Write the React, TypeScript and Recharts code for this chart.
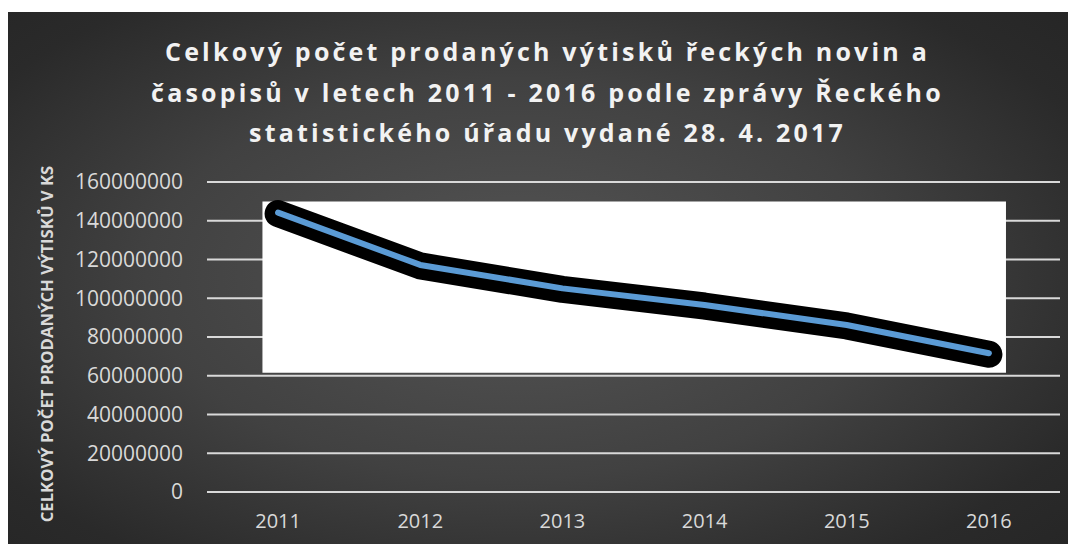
import React from 'react';
import { ComposedChart, Line, XAxis, YAxis, CartesianGrid, ReferenceArea } from 'recharts';

const years = ['2011', '2012', '2013', '2014', '2015', '2016'];
const copies = [144200000, 117200000, 105100000, 96500000, 86200000, 71600000];
const yTicks = [0, 20000000, 40000000, 60000000, 80000000, 100000000, 120000000, 140000000, 160000000];
const titleLines = [
  'Celkový počet prodaných výtisků řeckých novin a',
  'časopisů v letech 2011 - 2016 podle zprávy Řeckého',
  'statistického úřadu vydané 28. 4. 2017',
];
const yAxisTitle = 'CELKOVÝ POČET PRODANÝCH VÝTISKŮ V KS';

const data = years.map((y, i) => ({ i, year: y, value: copies[i] }));

const W = 1063;
const H = 532;

export default function App() {
  return (
    <div
      style={{
        position: 'relative',
        width: W,
        height: H,
        marginTop: 4,
        background: 'radial-gradient(ellipse 70% 75% at 48% 50%, #555555 0%, #414141 50%, #2a2a2a 85%, #262626 100%)',
        fontFamily: '"Open Sans", sans-serif',
        overflow: 'hidden',
      }}
    >
      <div
        style={{
          position: 'absolute',
          left: 8,
          top: 19,
          width: W,
          textAlign: 'center',
          color: '#F2F2F2',
          fontWeight: 700,
          fontSize: 25,
          letterSpacing: 3.2,
          lineHeight: '40.5px',
        }}
      >
        {titleLines.map((t, k) => (
          <div key={k}>{t}</div>
        ))}
      </div>
      <div
        style={{
          position: 'absolute',
          left: 39 - 200,
          top: 332 - 10,
          width: 400,
          height: 20,
          lineHeight: '20px',
          textAlign: 'center',
          transform: 'rotate(-90deg)',
          color: '#D9D9D9',
          fontWeight: 700,
          fontSize: 16.7,
          whiteSpace: 'nowrap',
        }}
      >
        {yAxisTitle}
      </div>
      <ComposedChart
        width={W}
        height={H}
        data={data}
        margin={{ top: 170, right: 11, left: 0, bottom: 0 }}
        style={{ position: 'absolute', left: 0, top: 0 }}
      >
        <CartesianGrid vertical={false} stroke="#D9D9D9" strokeWidth={2} />
        <XAxis
          dataKey="i"
          type="number"
          domain={[-0.5, 5.5]}
          ticks={[0, 1, 2, 3, 4, 5]}
          tickFormatter={(v: number) => years[v]}
          axisLine={false}
          tickLine={false}
          tickMargin={16}
          height={52}
          tick={{ fill: '#D9D9D9', fontSize: 20, fontFamily: '"Open Sans", sans-serif' }}
        />
        <YAxis
          type="number"
          domain={[0, 160000000]}
          ticks={yTicks}
          interval={0}
          axisLine={false}
          tickLine={false}
          tickMargin={18}
          width={199}
          tick={{ fill: '#D9D9D9', fontSize: 21, fontFamily: '"Open Sans", sans-serif' }}
        />
        <ReferenceArea x1={-0.11} x2={5.12} y1={61500000} y2={150000000} fill="#FFFFFF" fillOpacity={1} stroke="none" />
        <Line
          dataKey="value"
          stroke="#000000"
          strokeWidth={27}
          strokeLinecap="round"
          strokeLinejoin="round"
          dot={false}
          activeDot={false}
          isAnimationActive={false}
          style={{ transform: 'translate(0px, 1px)' }}
        />
        <Line
          dataKey="value"
          stroke="#5B9BD5"
          strokeWidth={6}
          strokeLinecap="round"
          strokeLinejoin="round"
          dot={false}
          activeDot={false}
          isAnimationActive={false}
        />
      </ComposedChart>
    </div>
  );
}
